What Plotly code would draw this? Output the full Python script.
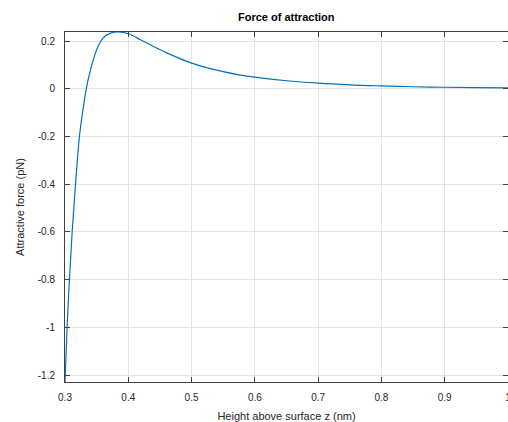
import plotly.graph_objects as go

# Values
height_nm = [0.300, 0.3033, 0.3070, 0.3113, 0.3166, 0.3228, 0.3280, 0.3336, 0.3380, 0.3440,
             0.3510, 0.3600, 0.3720, 0.3850, 0.400, 0.420, 0.440, 0.460, 0.480, 0.500,
             0.525, 0.550, 0.575, 0.600, 0.650, 0.700, 0.750, 0.800, 0.850, 0.900,
             0.950, 1.000]
force_pN = [-1.229, -1.0, -0.8, -0.6, -0.4, -0.2, -0.095, 0.0, 0.055, 0.115,
            0.170, 0.213, 0.234, 0.2385, 0.231, 0.205, 0.178, 0.152, 0.129, 0.108,
            0.088, 0.072, 0.059, 0.049, 0.034, 0.024, 0.017, 0.0125, 0.009, 0.0068,
            0.0052, 0.004]

x_ticks = [0.3, 0.4, 0.5, 0.6, 0.7, 0.8, 0.9, 1.0]
x_tick_labels = ["0.3", "0.4", "0.5", "0.6", "0.7", "0.8", "0.9", "1"]
y_ticks = [-1.2, -1.0, -0.8, -0.6, -0.4, -0.2, 0.0, 0.2]
y_tick_labels = ["-1.2", "-1", "-0.8", "-0.6", "-0.4", "-0.2", "0", "0.2"]

FONT = "Liberation Sans, Arial, Helvetica, sans-serif"
AXC = "#404040"
TXT = "#262626"

fig = go.Figure()
fig.add_trace(go.Scatter(
    x=height_nm, y=force_pN, mode="lines",
    line=dict(color="#0072BD", width=1.2, shape="spline", smoothing=1.0),
    showlegend=False, hoverinfo="skip",
))

axis_common = dict(
    showline=True, linecolor=AXC, linewidth=1, mirror="ticks",
    ticks="inside", ticklen=5, tickcolor=AXC, tickwidth=1,
    showgrid=True, gridcolor="#e3e3e3", gridwidth=1, zeroline=False,
    tickfont=dict(family=FONT, size=10, color=TXT),
    ticklabeloverflow="allow",
)

fig.update_xaxes(
    range=[0.3, 1.0], tickvals=x_ticks, ticktext=x_tick_labels,
    ticklabelstandoff=6,
    title=dict(text="Height above surface z (nm)", font=dict(family=FONT, size=11, color=TXT), standoff=12),
    **axis_common,
)
fig.update_yaxes(
    range=[-1.229, 0.2385], tickvals=y_ticks, ticktext=y_tick_labels,
    ticklabelstandoff=7,
    title=dict(text="Attractive force (pN)", font=dict(family=FONT, size=11, color=TXT), standoff=10),
    **axis_common,
)

fig.update_layout(
    title=dict(text="<b>Force of attraction</b>", x=0.5635, xanchor="center",
               y=1 - 17 / 422, yanchor="middle",
               font=dict(family=FONT, size=11, color="#000000")),
    margin=dict(l=65, r=0, t=32, b=40, autoexpand=False),
    plot_bgcolor="white", paper_bgcolor="white",
    font=dict(family=FONT, color=TXT),
)

fig.write_html("out.html")
